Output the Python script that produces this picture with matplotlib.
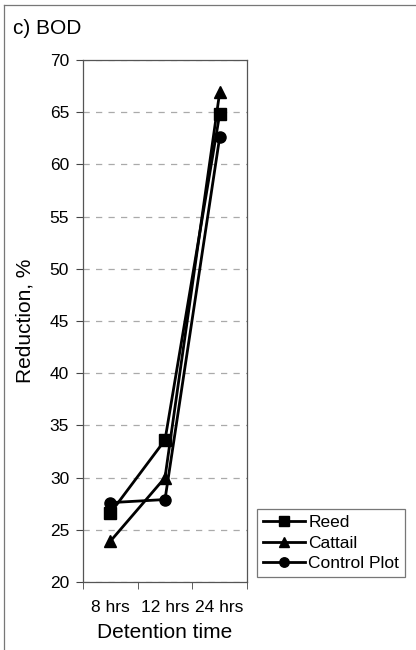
"""
BOD reduction vs detention time
"""
import matplotlib.pyplot as plt
from matplotlib.lines import Line2D

plt.rcParams['font.family'] = ['Liberation Sans', 'DejaVu Sans']

# data
times = ['8 hrs', '12 hrs', '24 hrs']
reed = [26.6, 33.6, 64.8]
cattail = [23.9, 30.0, 66.9]
control = [27.6, 27.9, 62.6]

fig = plt.figure(figsize=(4.16, 6.5), dpi=100)
ax = fig.add_axes([83 / 416, 1 - 582 / 650, 164 / 416, 522 / 650])

x = range(len(times))
ax.plot(x, reed, color='black', lw=2, marker='s', ms=8, label='Reed')
ax.plot(x, cattail, color='black', lw=2, marker='^', ms=8, label='Cattail')
ax.plot(x, control, color='black', lw=2, marker='o', ms=8, label='Control Plot')

ax.set_xlim(-0.5, 2.5)
ax.set_ylim(20, 70)
ax.set_yticks(range(20, 71, 5))
ax.set_xticks(list(x))
ax.set_xticklabels(times)
ax.set_xticks([-0.5, 0.5, 1.5, 2.5], minor=True)
ax.tick_params(axis='x', which='major', length=0, labelsize=12.5, pad=13)
ax.tick_params(axis='x', which='minor', length=5, direction='out', color='#444444')
ax.tick_params(axis='y', length=5, direction='out', labelsize=12.5, color='#444444', pad=5)
ax.yaxis.grid(True, ls=(0, (5, 5)), color='#aaaaaa', lw=0.9)
for s in ax.spines.values():
    s.set_color('#555555')
    s.set_linewidth(0.9)

ax.set_xlabel('Detention time', fontsize=15, labelpad=6)
ax.set_ylabel('Reduction, %', fontsize=15, labelpad=11)

fig.text(13 / 416, 1 - 28 / 650, 'c) BOD', fontsize=15, va='center', ha='left')

leg = ax.legend(loc='upper left', bbox_to_anchor=(257 / 416, 1 - 509 / 650),
                bbox_transform=fig.transFigure, fontsize=12.5, frameon=True,
                fancybox=False, edgecolor='#555555', borderpad=0.35,
                handlelength=2.4, handletextpad=0.2, labelspacing=0.3,
                markerscale=0.85, borderaxespad=0)
leg.get_frame().set_linewidth(0.9)

# scanned frame edges
fig.add_artist(Line2D([4 / 416, 4 / 416], [0, 1 - 5 / 650], color='#777777', lw=0.9))
fig.add_artist(Line2D([4 / 416, 1], [1 - 5 / 650, 1 - 5 / 650], color='#777777', lw=0.9))

plt.savefig('out.png', dpi=100)
